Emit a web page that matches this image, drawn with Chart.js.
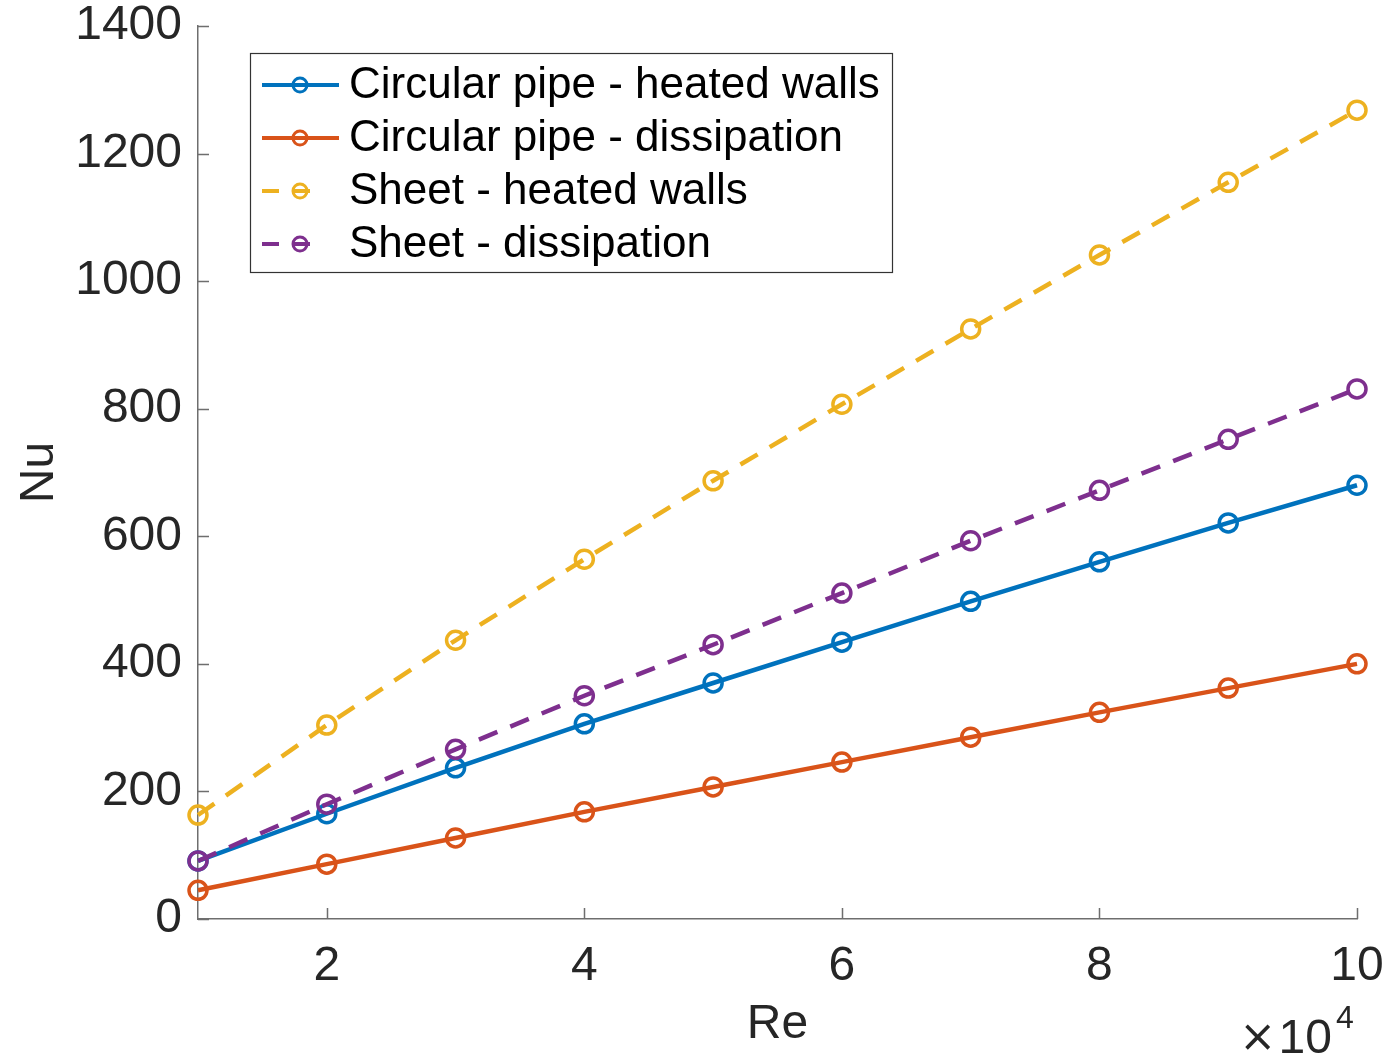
<!DOCTYPE html>
<html>
<head>
<meta charset="utf-8">
<script src="https://cdn.jsdelivr.net/npm/chart.js@4.4.1/dist/chart.umd.min.js"></script>
<style>
  html, body { margin: 0; padding: 0; background: #fff; }
  #wrap { width: 1386px; height: 1058px; }
</style>
</head>
<body>
<div id="wrap"><canvas id="nuChart" width="1386" height="1058"></canvas></div>
<script>
// Re values in units of 10^4
const reValues = [1, 2, 3, 4, 5, 6, 7, 8, 9, 10];
const pipeHeated = [91, 165, 237, 306, 370, 434, 498, 560, 621, 680];
const pipeDissipation = [45, 86, 127, 168, 207, 246, 285, 324, 362, 400];
const sheetHeated = [163, 304, 437, 564, 687, 807, 925, 1041, 1155, 1268];
const sheetDissipation = [91, 180, 266, 350, 430, 511, 593, 672, 752, 831];
const xTicks = [2, 4, 6, 8, 10];
const yTicks = [0, 200, 400, 600, 800, 1000, 1200, 1400];

const FONT = "'Liberation Sans', Arial, Helvetica, sans-serif";
const TEXT = '#262626';

function toPoints(ys) {
    return reValues.map((x, i) => ({ x: x, y: ys[i] }));
}

function makeSeries(label, values, color, dashed, order) {
    return {
        label: label,
        data: toPoints(values),
        borderColor: color,
        borderWidth: 4.5,
        borderDash: dashed ? [20, 14] : [],
        pointRadius: 9,
        pointBorderWidth: 3.5,
        pointBorderColor: color,
        pointBackgroundColor: 'rgba(0,0,0,0)',
        pointStyle: 'circle',
        tension: 0,
        fill: false,
        clip: false,
        order: order
    };
}

// inward ticks, matlab-style legend and the x10^4 exponent label
const matlabDecor = {
    id: 'matlabDecor',
    afterDraw(chart) {
        const ctx = chart.ctx;
        const xs = chart.scales.x;
        const ys = chart.scales.y;
        const area = chart.chartArea;

        ctx.save();
        ctx.strokeStyle = '#6e6e6e';
        ctx.lineWidth = 1.5;
        ctx.beginPath();
        xTicks.forEach(t => {
            const px = Math.round(xs.getPixelForValue(t)) + 0.5;
            ctx.moveTo(px, area.bottom);
            ctx.lineTo(px, area.bottom - 11);
        });
        yTicks.forEach(t => {
            const py = Math.round(ys.getPixelForValue(t)) + 0.5;
            ctx.moveTo(area.left, py);
            ctx.lineTo(area.left + 11, py);
        });
        ctx.stroke();

        // legend box
        const box = { x: 250, y: 53, w: 642, h: 219 };
        ctx.fillStyle = '#fff';
        ctx.fillRect(box.x, box.y, box.w, box.h);
        ctx.strokeStyle = '#333';
        ctx.lineWidth = 1.2;
        ctx.strokeRect(box.x + 0.5, box.y + 0.5, box.w, box.h);

        const rowY = [85, 138, 191, 244];
        chart.data.datasets.forEach((ds, i) => {
            const y = rowY[i];
            ctx.strokeStyle = ds.borderColor;
            ctx.lineWidth = 4;
            ctx.setLineDash(ds.borderDash.length ? [17, 14] : []);
            ctx.beginPath();
            ctx.moveTo(262, y);
            ctx.lineTo(ds.borderDash.length ? 322 : 339, y);
            ctx.stroke();
            ctx.setLineDash([]);
            ctx.lineWidth = 3;
            ctx.beginPath();
            ctx.arc(300, y, 7, 0, Math.PI * 2);
            ctx.stroke();

            ctx.fillStyle = '#000';
            ctx.font = '44px ' + FONT;
            ctx.textAlign = 'left';
            ctx.textBaseline = 'middle';
            ctx.fillText(ds.label, 349, y + 1);
        });

        // exponent label
        ctx.fillStyle = TEXT;
        ctx.textBaseline = 'alphabetic';
        ctx.textAlign = 'right';
        ctx.font = '48px ' + FONT;
        ctx.fillText('10', 1332, 1053);
        ctx.font = '44px "DejaVu Sans"';
        ctx.fillText('\u00d7', 1276, 1051);
        ctx.textAlign = 'left';
        ctx.font = '32px ' + FONT;
        ctx.fillText('4', 1336, 1028);
        ctx.restore();
    }
};

const ctx = document.getElementById('nuChart');

new Chart(ctx, {
    type: 'line',
    data: {
        datasets: [
            makeSeries('Circular pipe - heated walls', pipeHeated, '#0072BD', false, 4),
            makeSeries('Circular pipe - dissipation', pipeDissipation, '#D95319', false, 3),
            makeSeries('Sheet - heated walls', sheetHeated, '#EDB120', true, 2),
            makeSeries('Sheet - dissipation', sheetDissipation, '#7E2F8E', true, 1)
        ]
    },
    options: {
        responsive: false,
        animation: false,
        devicePixelRatio: 1,
        layout: {
            padding: { left: 0, right: 29, top: 26, bottom: 0 }
        },
        plugins: {
            legend: { display: false },
            tooltip: { enabled: false },
            title: { display: false }
        },
        scales: {
            x: {
                type: 'linear',
                min: 1,
                max: 10,
                afterBuildTicks: scale => {
                    scale.ticks = xTicks.map(v => ({ value: v }));
                },
                afterFit: scale => {
                    scale.height = 139;
                    scale.paddingLeft = 0;
                    scale.paddingRight = 0;
                },
                grid: { display: false, drawTicks: false },
                border: { display: true, color: '#6e6e6e', width: 1.5 },
                ticks: {
                    color: TEXT,
                    padding: 24,
                    maxRotation: 0,
                    callback: v => String(v),
                    font: { family: FONT, size: 48, lineHeight: 1.0 }
                },
                title: {
                    display: true,
                    text: 'Re',
                    color: TEXT,
                    padding: { top: 0, bottom: 4 },
                    font: { family: FONT, size: 48 }
                }
            },
            y: {
                type: 'linear',
                min: 0,
                max: 1400,
                afterBuildTicks: scale => {
                    scale.ticks = yTicks.map(v => ({ value: v }));
                },
                afterFit: scale => {
                    scale.width = 198;
                    scale.paddingTop = 0;
                    scale.paddingBottom = 0;
                },
                grid: { display: false, drawTicks: false },
                border: { display: true, color: '#6e6e6e', width: 1.5 },
                ticks: {
                    color: TEXT,
                    padding: 16,
                    callback: v => String(v),
                    font: { family: FONT, size: 48, lineHeight: 1.0 }
                },
                title: {
                    display: true,
                    text: 'Nu',
                    color: TEXT,
                    padding: { top: 11, bottom: 0 },
                    font: { family: FONT, size: 48 }
                }
            }
        }
    },
    plugins: [matlabDecor]
});
</script>
</body>
</html>
